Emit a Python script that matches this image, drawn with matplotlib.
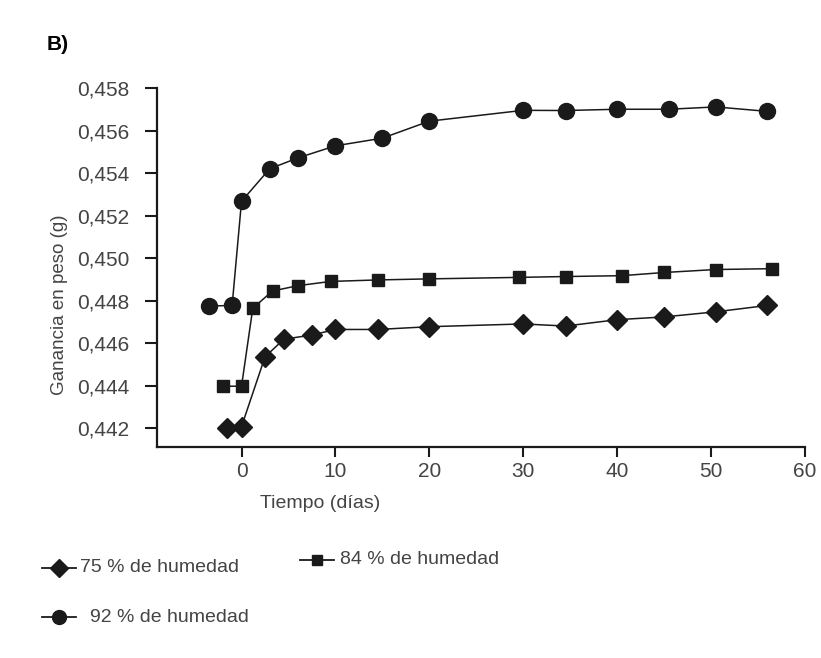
import matplotlib
matplotlib.use('Agg')
import matplotlib.pyplot as plt
from matplotlib.lines import Line2D
import numpy as np

# ganancia en peso (g) por dia, para cada humedad relativa
days_75 = [-1.5, 0, 2.5, 4.5, 7.5, 10, 14.5, 20, 30, 34.5, 40, 45, 50.5, 56]
peso_75 = [0.44199, 0.44207, 0.44535, 0.44618, 0.44638, 0.44664, 0.44664,
           0.44677, 0.44690, 0.44680, 0.44710, 0.44723, 0.44747, 0.44777]

days_84 = [-2, 0, 1.2, 3.3, 6, 9.5, 14.5, 20, 29.5, 34.5, 40.5, 45, 50.5, 56.5]
peso_84 = [0.44397, 0.44397, 0.44764, 0.44845, 0.44870, 0.44890, 0.44897,
           0.44902, 0.44909, 0.44913, 0.44917, 0.44932, 0.44946, 0.44950]

days_92 = [-3.5, -1, 0, 3, 6, 10, 15, 20, 30, 34.5, 40, 45.5, 50.5, 56]
peso_92 = [0.44774, 0.44777, 0.45267, 0.45420, 0.45471, 0.45528, 0.45564,
           0.45644, 0.45695, 0.45694, 0.45700, 0.45700, 0.45711, 0.45690]

y_ticks = [0.442, 0.444, 0.446, 0.448, 0.450, 0.452, 0.454, 0.456, 0.458]
x_ticks = [0, 10, 20, 30, 40, 50, 60]
labels = ['75 % de humedad', '84 % de humedad', '92 % de humedad']

plt.rcParams['font.family'] = ['Liberation Sans', 'DejaVu Sans']
W, H = 821, 658
fig = plt.figure(figsize=(W / 100, H / 100), dpi=100)
ax = fig.add_axes([157 / W, 1 - 447 / H, (805 - 157) / W, (447 - 88) / H])

ink = '#1a1a1a'
ax.plot(days_75, peso_75, color=ink, lw=1.1, marker='D', ms=10, mfc=ink, mec=ink)
ax.plot(days_84, peso_84, color=ink, lw=1.1, marker='s', ms=9, mfc=ink, mec=ink)
ax.plot(days_92, peso_92, color=ink, lw=1.1, marker='o', ms=11.5, mfc=ink, mec=ink)

ax.set_xlim(-9, 60)
ax.set_ylim(0.44111, 0.458)
ax.set_xticks(x_ticks)
ax.set_yticks(y_ticks)
ax.set_yticklabels([f'{v:.3f}'.replace('.', ',') for v in y_ticks])
for s in ['top', 'right']:
    ax.spines[s].set_visible(False)
for s in ['left', 'bottom']:
    ax.spines[s].set_linewidth(1.6)
    ax.spines[s].set_color(ink)
ax.tick_params(axis='y', length=9, width=1.5, pad=11, labelsize=15, colors=ink, labelcolor='#444444')
ax.tick_params(axis='x', length=7, width=1.5, pad=4, labelsize=15, colors=ink, labelcolor='#444444')

fig.text(60 / W, 1 - 305 / H, 'Ganancia en peso (g)', rotation=90, ha='center', va='center',
         fontsize=13.5, color='#444444')
fig.text(320 / W, 1 - 503 / H, 'Tiempo (días)', ha='center', va='center',
         fontsize=14, color='#444444')
fig.text(47 / W, 1 - 45 / H, 'B)', ha='left', va='center', fontsize=15,
         fontweight='bold', color='black')

# leyenda debajo del grafico
entries = [(42, 568, 'D', 9, 80, labels[0]),
           (300, 560, 's', 7, 340, labels[1]),
           (42, 617, 'o', 10, 90, labels[2])]
for x0, y0, mk, ms, tx, txt in entries:
    fig.add_artist(Line2D([x0 / W, (x0 + 34) / W], [1 - y0 / H, 1 - y0 / H],
                          transform=fig.transFigure, color=ink, lw=1.3,
                          marker=mk, markevery=[1], ms=0))
    fig.add_artist(Line2D([(x0 + 17) / W], [1 - y0 / H], transform=fig.transFigure,
                          color=ink, marker=mk, ms=ms, mfc=ink, mec=ink, lw=0))
    fig.text(tx / W, 1 - y0 / H, txt, ha='left', va='center', fontsize=14, color='#444444')

fig.savefig('out.png', dpi=100, facecolor='white')
